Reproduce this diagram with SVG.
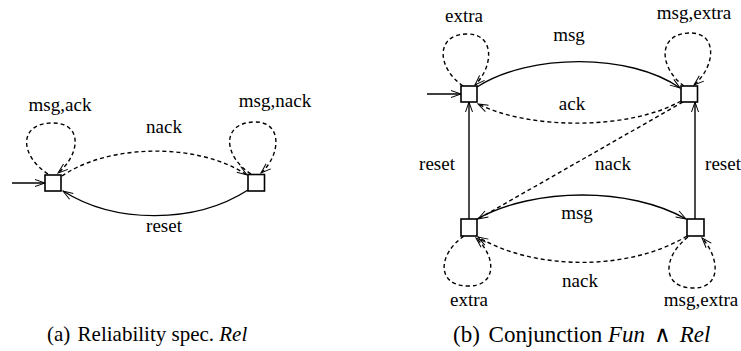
<svg xmlns="http://www.w3.org/2000/svg" width="741" height="351" viewBox="0 0 741 351">
<style>
  .node { fill: #fff; stroke: #000; stroke-width: 1.6; }
  .e { fill: none; stroke: #000; stroke-width: 1.4; marker-end: url(#arr); }
  .d { stroke-dasharray: 4 3; }
  .lbl { font-family: "Liberation Serif", "Times New Roman", serif; font-size: 19px; fill: #000; text-anchor: middle; }
  .cap { font-family: "Liberation Serif", "Times New Roman", serif; fill: #000; }
  .it { font-style: italic; }
</style>
<defs>
  <marker id="arr" markerUnits="userSpaceOnUse" markerWidth="11" markerHeight="8" refX="10" refY="4" orient="auto" overflow="visible">
    <path d="M0,0.5 L10,4 L0,7.5" fill="none" stroke="#000" stroke-width="1"/>
  </marker>
</defs>

<g id="connectors">
  <!-- left diagram -->
  <path class="e" d="M12,183 L45,183"/>
  <path class="e d" d="M48,174 C20,156 18,124 51,123 C84,122 80,155 58,173"/>
  <path class="e d" d="M251,174 C223,156 221,123 254,122 C283,121 281,155 261,173"/>
  <path class="e d" d="M62,176 C110,143 200,143 247,175"/>
  <path class="e" d="M248,190 C195,224 115,224 63,191"/>
  <!-- right diagram -->
  <path class="e" d="M427,94 L461,94"/>
  <path class="e d" d="M463,86 C437,68 435,35 466,34 C495,33 494,66 475,85"/>
  <path class="e d" d="M684,86 C659,68 657,34 689,33 C718,32 716,66 694,85"/>
  <path class="e" d="M477,87 C530,53 630,53 680,88"/>
  <path class="e d" d="M681,101 C630,130 530,130 478,104"/>
  <path class="e" d="M469,219 L469,102"/>
  <path class="e" d="M695,219 L695,102"/>
  <path class="e d" d="M683,102 L478,219"/>
  <path class="e" d="M477,219 C535,187 630,187 686,219"/>
  <path class="e d" d="M687,236 C630,271 535,271 478,237"/>
  <path class="e d" d="M464,236 C438,254 436,285 467,286 C497,287 497,257 476,238"/>
  <path class="e d" d="M688,237 C663,256 661,287 692,288 C722,289 720,258 702,238"/>
</g>

<g id="node-rel-0"><rect class="node" x="45" y="175" width="16" height="16"/></g>
<g id="node-rel-1"><rect class="node" x="248" y="174.5" width="16.5" height="16.5"/></g>
<g id="node-conj-tl"><rect class="node" x="461" y="86" width="16" height="16"/></g>
<g id="node-conj-tr"><rect class="node" x="681" y="86" width="16.5" height="16"/></g>
<g id="node-conj-bl"><rect class="node" x="461" y="219" width="16" height="17"/></g>
<g id="node-conj-br"><rect class="node" x="687" y="219" width="17" height="17"/></g>

<g id="labels">
  <text class="lbl" x="60" y="111">msg,ack</text>
  <text class="lbl" x="275" y="107">msg,nack</text>
  <text class="lbl" x="164" y="133">nack</text>
  <text class="lbl" x="164" y="232">reset</text>

  <text class="lbl" x="464" y="22">extra</text>
  <text class="lbl" x="694" y="19">msg,extra</text>
  <text class="lbl" x="569" y="41">msg</text>
  <text class="lbl" x="572" y="110">ack</text>
  <text class="lbl" x="437" y="170">reset</text>
  <text class="lbl" x="723" y="170">reset</text>
  <text class="lbl" x="613" y="170">nack</text>
  <text class="lbl" x="577" y="219">msg</text>
  <text class="lbl" x="580" y="287">nack</text>
  <text class="lbl" x="469" y="306">extra</text>
  <text class="lbl" x="701" y="306">msg,extra</text>
</g>

<g id="captions">
  <text class="cap" x="47" y="341" font-size="21">(a)<tspan dx="2"> Reliability spec. </tspan><tspan class="it">Rel</tspan></text>
  <text class="cap" x="453" y="342" font-size="23">(b)<tspan dx="3"> Conjunction </tspan><tspan class="it">Fun</tspan><tspan dx="3"> ∧ </tspan><tspan class="it" dx="3">Rel</tspan></text>
</g>
</svg>
